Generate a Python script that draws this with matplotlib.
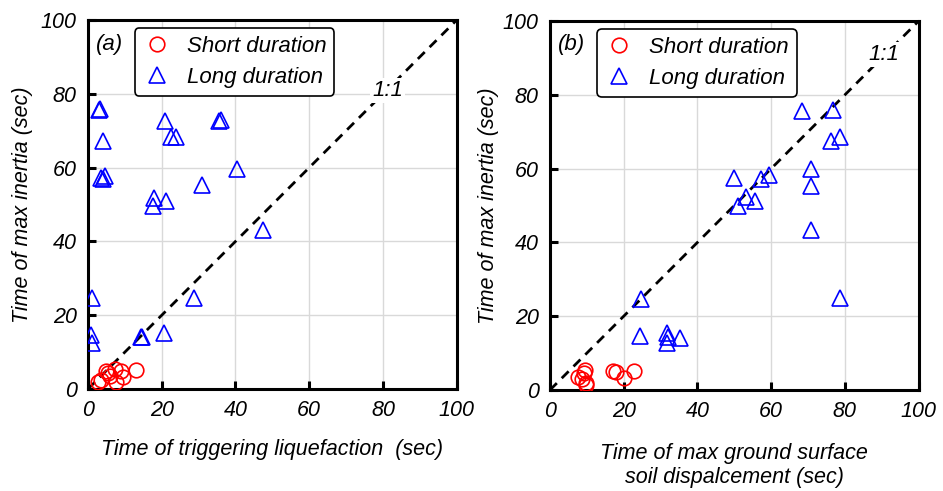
import matplotlib
matplotlib.use("Agg")
import matplotlib.pyplot as plt

plt.rcParams['font.family'] = ['Liberation Sans', 'DejaVu Sans']
plt.rcParams['font.style'] = 'italic'

# Panel (a): time of triggering liquefaction vs time of max inertia
a_short_x = [2.7, 3.5, 5.0, 6.1, 7.2, 7.7, 9.0, 9.5, 5.5, 13.1]
a_short_y = [1.8, 2.4, 5.0, 3.6, 5.4, 1.8, 5.0, 3.2, 4.4, 5.2]
a_long_x = [2.9, 3.2, 4.1, 3.5, 4.5, 4.0, 20.8, 35.5, 36.0, 22.6, 23.9, 40.4,
            30.9, 17.9, 17.6, 21.2, 47.4, 1.1, 28.7, 0.9, 1.1, 14.4, 14.6, 20.5]
a_long_y = [75.6, 75.9, 67.1, 57.2, 57.8, 57.0, 72.7, 72.7, 72.9, 68.2, 68.2, 59.6,
            55.3, 51.9, 49.7, 50.9, 43.1, 24.6, 24.8, 14.6, 12.4, 14.2, 14.0, 15.2]

# Panel (b): time of max ground surface displacement vs time of max inertia
b_short_x = [7.7, 9.3, 9.5, 9.8, 8.6, 17.2, 17.8, 20.1, 22.9, 9.9]
b_short_y = [3.6, 4.5, 5.4, 1.8, 3.0, 5.2, 5.0, 3.2, 5.2, 1.4]
b_long_x = [68.3, 76.7, 76.3, 78.7, 70.8, 70.9, 70.7, 78.6, 49.8, 57.3, 59.3,
            53.2, 51.0, 55.7, 24.6, 24.4, 31.7, 32.0, 31.8, 35.3]
b_long_y = [75.6, 76.0, 67.4, 68.5, 60.0, 55.4, 43.4, 24.9, 57.5, 57.3, 58.2,
            52.3, 50.0, 51.1, 24.6, 14.7, 15.4, 14.3, 12.7, 14.2]

ticks = [0, 20, 40, 60, 80, 100]
one_to_one = [0, 100]

fig = plt.figure(figsize=(9.43, 4.91), dpi=100)
ax_a = fig.add_axes([0.0933, 0.2077, 0.391, 0.7515])
ax_b = fig.add_axes([0.5832, 0.2057, 0.391, 0.7515])

panels = [
    (ax_a, a_short_x, a_short_y, a_long_x, a_long_y, '(a)', (81.3, 80.8),
     'Time of triggering liquefaction  (sec)', (0.127, 0.978), 13, 6),
    (ax_b, b_short_x, b_short_y, b_long_x, b_long_y, '(b)', (90.5, 90.8),
     'Time of max ground surface\nsoil dispalcement (sec)', (0.128, 0.978), 15, 3),
]

for ax, sx, sy, lx, ly, tag, pos11, xlabel, legpos, xpad, ypad in panels:
    ax.set_xlim(0, 100)
    ax.set_ylim(0, 100)
    ax.set_xticks(ticks)
    ax.set_yticks(ticks)
    ax.grid(True, color='#d9d9d9', linewidth=1.0, zorder=0)
    ax.set_axisbelow(True)
    for sp in ax.spines.values():
        sp.set_linewidth(2.2)
    ax.tick_params(direction='in', length=6, width=2.2, labelsize=15.5, pad=8,
                   top=False, right=False)
    for lab in ax.get_xticklabels() + ax.get_yticklabels():
        lab.set_fontstyle('italic')

    ax.plot(one_to_one, one_to_one, color='black', linestyle=(0, (3.5, 2.5)),
            linewidth=2.0, zorder=2)
    ax.text(pos11[0], pos11[1], '1:1', fontsize=16, ha='center', va='center',
            bbox=dict(facecolor='white', edgecolor='none', pad=1.5), zorder=3)

    ax.plot(sx, sy, linestyle='none', marker='o', markersize=10.5,
            markerfacecolor='none', markeredgecolor='red', markeredgewidth=1.2,
            label='Short duration', zorder=4)
    ax.plot(lx, ly, linestyle='none', marker='^', markersize=11,
            markerfacecolor='none', markeredgecolor='blue', markeredgewidth=1.2,
            label='Long duration', zorder=4)

    ax.text(0.022, 0.935, tag, transform=ax.transAxes, fontsize=16,
            ha='left', va='center')

    leg = ax.legend(loc='upper left', bbox_to_anchor=legpos, fontsize=16,
                    frameon=True, fancybox=True, edgecolor='black',
                    framealpha=1.0, handletextpad=0.7, borderpad=0.35,
                    labelspacing=0.45, handlelength=1.3, borderaxespad=0)
    leg.get_frame().set_linewidth(1.2)

    ax.set_xlabel(xlabel, fontsize=15.5, labelpad=xpad)
    ax.set_ylabel('Time of max inertia (sec)', fontsize=15.5, labelpad=ypad)

fig.savefig('out.png', dpi=100)
